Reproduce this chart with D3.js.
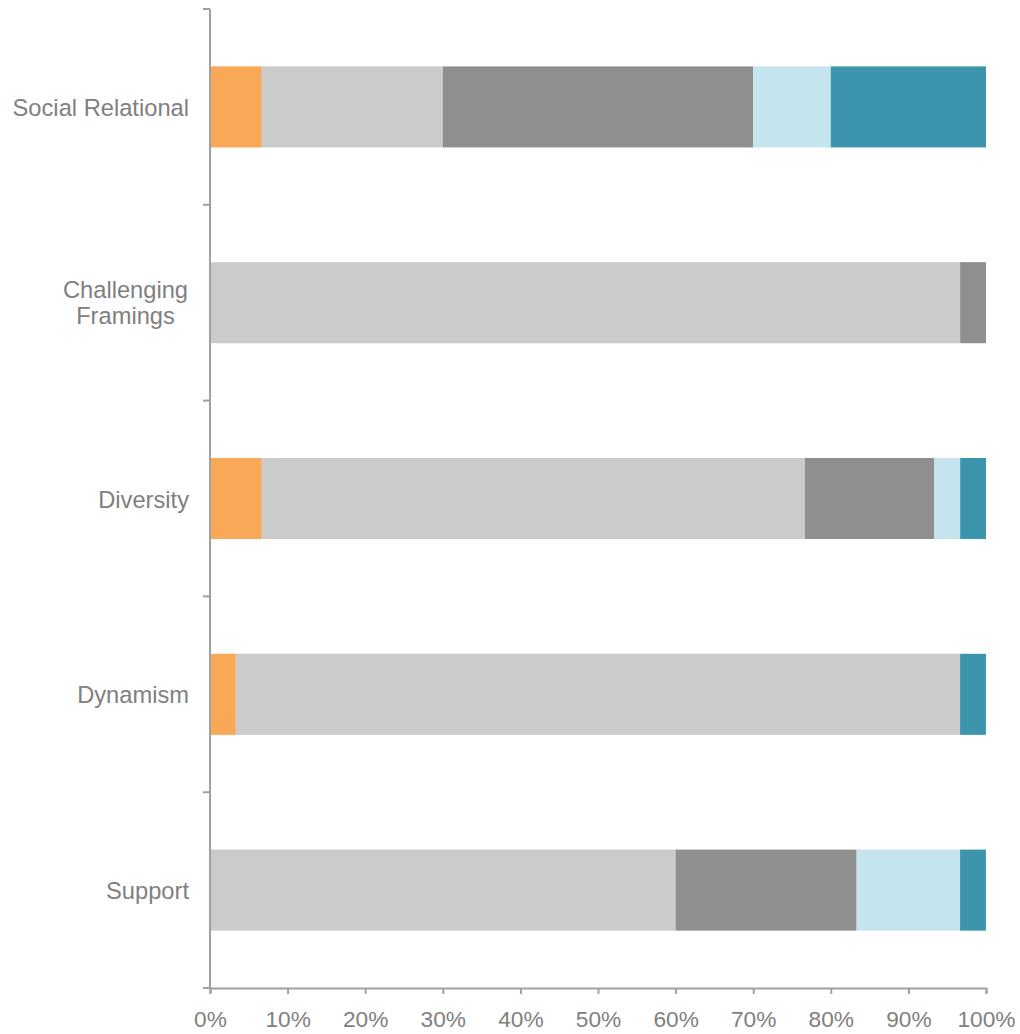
<!DOCTYPE html>
<html>
<head>
<meta charset="utf-8">
<script src="https://cdn.jsdelivr.net/npm/d3@7"></script>
<style>
body{margin:0;background:#fff;}
svg{display:block;font-family:"Liberation Sans",Arial,sans-serif;}
</style>
</head>
<body>
<svg id="chart" width="1020" height="1034"></svg>
<script>
const categories = ["Social Relational", "Challenging Framings", "Diversity", "Dynamism", "Support"];
const seriesNames = ["S1", "S2", "S3", "S4", "S5"];
const s1 = [6.67, 0, 6.67, 3.33, 0];
const s2 = [23.33, 96.67, 70, 93.33, 60];
const s3 = [40, 3.33, 16.67, 0, 23.33];
const s4 = [10, 0, 3.33, 0, 13.33];
const s5 = [20, 0, 3.33, 3.33, 3.33];
const colors = ["#F9A857", "#CBCBCB", "#8F8F8F", "#C4E4EE", "#3C95AC"];
const tickValues = [0,10,20,30,40,50,60,70,80,90,100];

const seriesVals = [s1, s2, s3, s4, s5];
const rows = categories.map((c, i) => {
  const r = {cat: c};
  seriesNames.forEach((s, j) => r[s] = seriesVals[j][i]);
  return r;
});
const stack = d3.stack().keys(seriesNames)(rows);

const svg = d3.select("#chart");
const x = d3.scaleLinear().domain([0, 100]).range([210, 986]);
const y = d3.scaleBand().domain(categories).range([9, 988]).paddingInner(0.586).paddingOuter(0.293);
const axisColor = "#A0A0A0";
const textColor = "#808080";

stack.forEach((layer, j) => {
  svg.append("g").selectAll("rect").data(layer).join("rect")
    .attr("x", d => x(d[0]))
    .attr("width", d => Math.max(0, x(d[1]) - x(d[0])))
    .attr("y", d => y(d.data.cat))
    .attr("height", y.bandwidth())
    .attr("fill", colors[j]);
});

// y axis
const yAxis = svg.append("g");
yAxis.append("line").attr("x1", 210).attr("x2", 210).attr("y1", 9).attr("y2", 988)
  .attr("stroke", axisColor).attr("stroke-width", 2);
const bounds = categories.map(c => y(c) - y.step() * y.paddingInner() / 2);
bounds.push(988);
bounds[0] = 9;
yAxis.selectAll("line.t").data(bounds).join("line").attr("class","t")
  .attr("x1", 203).attr("x2", 210).attr("y1", d => d).attr("y2", d => d)
  .attr("stroke", axisColor).attr("stroke-width", 2);

// category labels
categories.forEach(c => {
  const cy = y(c) + y.bandwidth() / 2;
  if (c === "Challenging Framings") {
    const t = svg.append("text").attr("text-anchor", "middle").attr("fill", textColor)
      .attr("font-size", 23.7);
    ["Challenging", "Framings"].forEach((w, k) => {
      t.append("tspan").attr("x", 125.5).attr("y", cy - 5 + k * 26.5).text(w);
    });
  } else {
    svg.append("text").attr("text-anchor", "end").attr("fill", textColor)
      .attr("font-size", 23.7).attr("x", 189).attr("y", cy + 9).text(c);
  }
});

// x axis
const xAxis = svg.append("g").attr("transform", "translate(0,988)")
  .call(d3.axisBottom(x).tickValues(tickValues).tickFormat(d => d + "%").tickSize(6).tickPadding(0));
xAxis.select(".domain").attr("stroke", axisColor).attr("stroke-width", 2);
xAxis.selectAll(".tick line").attr("stroke", axisColor).attr("stroke-width", 2);
xAxis.selectAll(".tick text").attr("fill", textColor).attr("font-size", 22.7)
  .attr("dy", null).attr("y", 39)
  .attr("font-family", "'Liberation Sans',Arial,sans-serif");
</script>
</body>
</html>
